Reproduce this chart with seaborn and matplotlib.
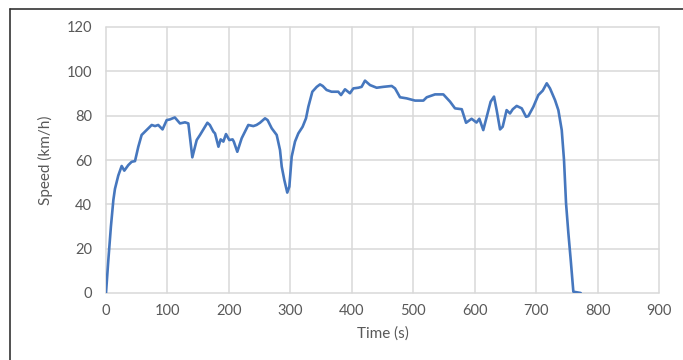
import matplotlib
matplotlib.use("Agg")
import matplotlib.pyplot as plt
import seaborn as sns
import pandas as pd
from matplotlib.lines import Line2D

time_s = [0, 3.8, 8, 12, 14.6, 20, 25.5, 29.8, 36.3, 41.8, 47.2, 52.6, 58, 66, 74.4,
          79.8, 85, 92, 98.8, 104, 112, 120.4, 128.6, 134, 140.5, 147.6, 153, 165, 169,
          174.7, 177.4, 183, 186.6, 191, 195.3, 200.7, 206, 208, 213.7, 220.8, 231.6,
          239.8, 245, 250.6, 258.8, 263, 269.7, 277.8, 283.2, 286, 290.2, 295, 298.4,
          302.2, 307.6, 313, 320, 325.5, 329.3, 335.8, 343, 348.3, 352.7, 359, 367, 378,
          382.5, 389, 397, 402.5, 410.7, 416, 421.5, 429.7, 440.5, 451.3, 465, 470.4,
          478.5, 489.4, 503, 516.5, 522, 535.5, 549, 560, 568, 579, 586, 595, 603,
          607.6, 614, 619.6, 626, 631.5, 635.8, 641.3, 645.6, 652, 657.5, 662, 668.4,
          676.6, 683.6, 687.3, 695.5, 703.6, 710.8, 717.3, 722.6, 730.8, 736.2, 741.7,
          745.4, 748.7, 752.5, 756.3, 760.6, 772.6]
speed_kmh = [0, 14.9, 30, 42, 47, 53, 57.3, 55.2, 57.7, 59.2, 59.5, 66, 71.3, 73.5, 75.8,
             75.3, 75.8, 73.8, 78, 78.3, 79.2, 76.5, 77, 76.5, 61.2, 69, 71.3, 76.8, 75.8,
             72.8, 72, 66, 69.3, 68.3, 71.7, 69, 69.3, 68.3, 63.7, 69.8, 75.8,
             75.3, 75.8, 76.8, 78.8, 78, 74.3, 71.3, 64.5, 57, 51, 45.3, 48,
             61.5, 68.3, 72, 75, 78.8, 84, 90.8, 93, 94.1, 93.4, 91.6, 90.8, 90.8,
             89.3, 91.9, 90.1, 92.3, 92.6, 93, 95.8, 93.8, 92.6, 93, 93.4, 92.3,
             88.3, 87.8, 86.8, 86.8, 88.3, 89.6, 89.6, 86.3, 83.3, 82.9, 76.8, 78.6, 76.9,
             78.6, 73.5, 79.5, 86.3, 88.6, 82.5, 73.8, 75, 82.5, 81, 82.9, 84.4,
             83.3, 79.5, 79.8, 84, 89.3, 91.3, 94.6, 92.3, 87, 82.5, 73.5,
             60, 40.5, 27, 15, 0.6, 0]

x_ticks = [0, 100, 200, 300, 400, 500, 600, 700, 800, 900]
y_ticks = [0, 20, 40, 60, 80, 100, 120]
x_label = "Time (s)"
y_label = "Speed (km/h)"

df = pd.DataFrame({"t": time_s, "v": speed_kmh})

sns.set_style("white")
plt.rcParams["font.family"] = ["Lato", "DejaVu Sans"]

fig = plt.figure(figsize=(6.83, 3.6), dpi=100)
ax = fig.add_axes([106 / 683, 67 / 360, 553 / 683, 266 / 360])

sns.lineplot(data=df, x="t", y="v", ax=ax, color="#4677BE", linewidth=1.9,
             estimator=None, sort=False)

ax.set_xlim(0, 900)
ax.set_ylim(0, 120)
ax.set_xticks(x_ticks)
ax.set_yticks(y_ticks)
ax.grid(True, color="#D9D9D9", linewidth=1.1)
ax.set_axisbelow(True)
for s in ax.spines.values():
    s.set_visible(False)
for gl in ax.get_xgridlines() + ax.get_ygridlines():
    gl.set_clip_on(False)
ax.tick_params(axis="both", length=0, labelsize=10.5, labelcolor="#595959")
ax.tick_params(axis="y", pad=10)
ax.tick_params(axis="x", pad=8)
ax.set_xlabel(x_label, fontsize=11, color="#595959", labelpad=6)
ax.set_ylabel(y_label, fontsize=11, color="#595959", labelpad=10)

fig.add_artist(Line2D([10 / 683, 10 / 683], [0, 1 - 9 / 360], color="#333333", linewidth=1.2))
fig.add_artist(Line2D([10 / 683, 1], [1 - 9 / 360, 1 - 9 / 360], color="#333333", linewidth=1.2))

fig.savefig("out.png", dpi=100)
